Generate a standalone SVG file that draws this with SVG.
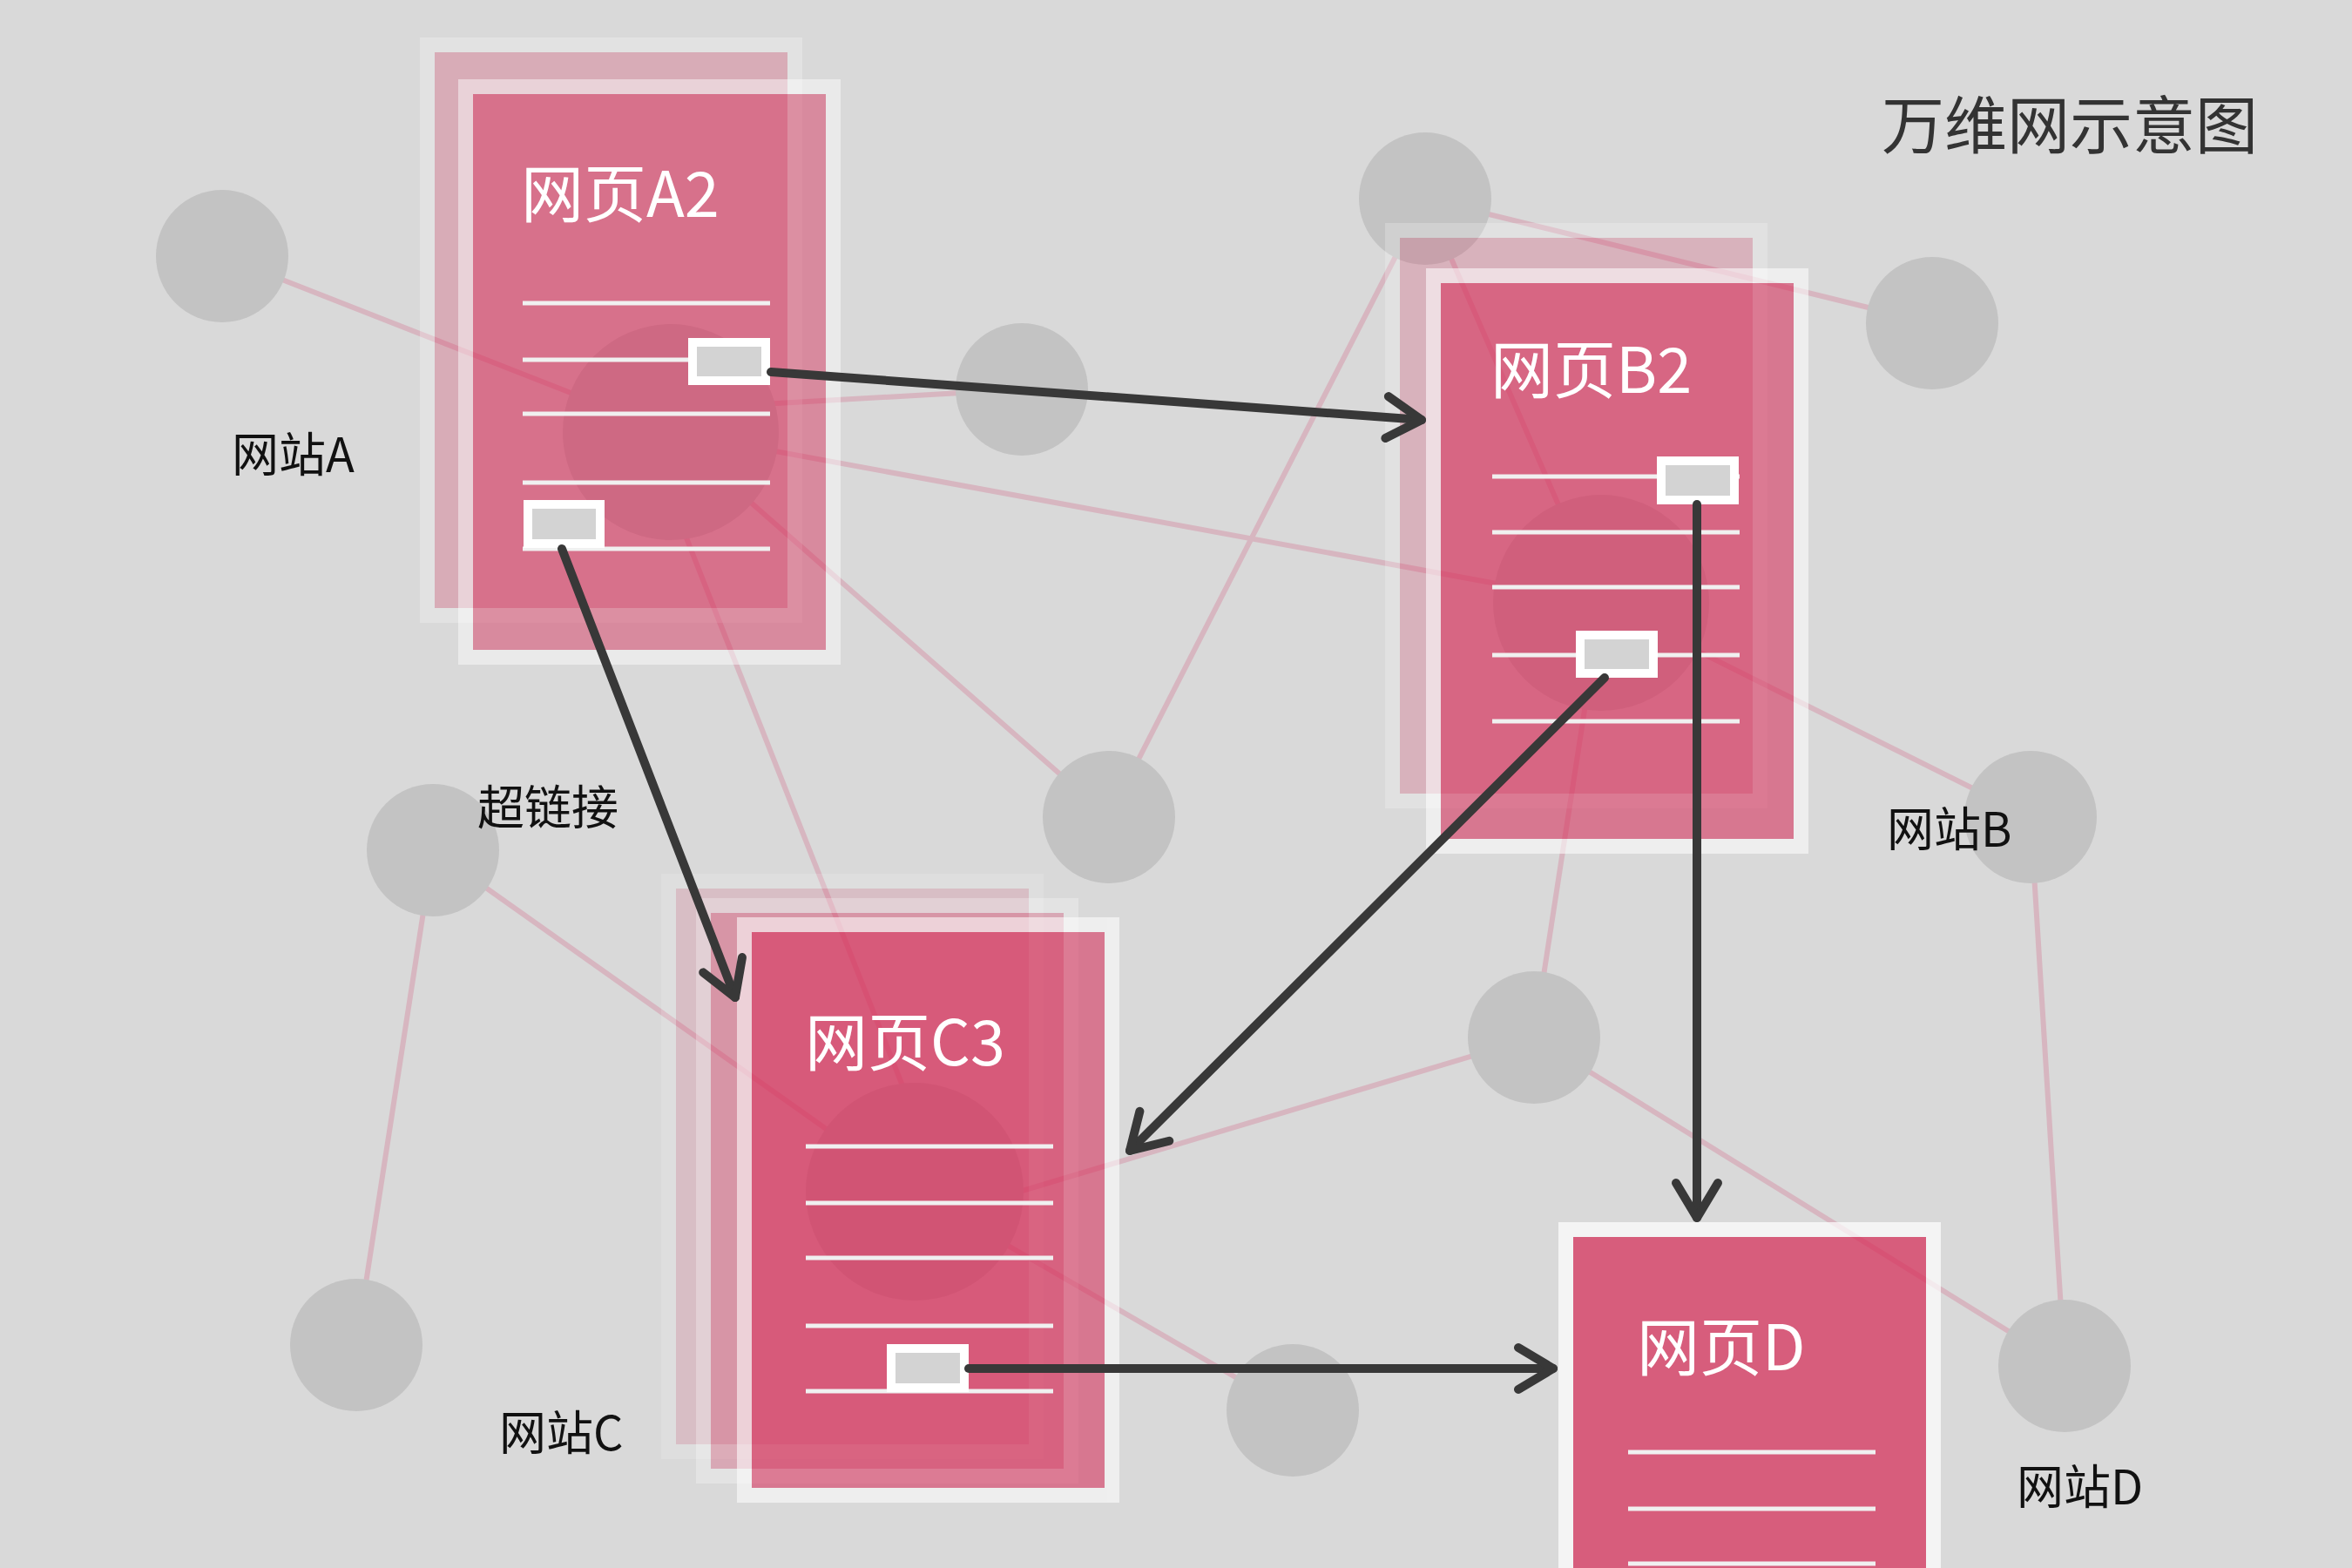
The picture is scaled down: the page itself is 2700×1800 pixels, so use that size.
<svg xmlns="http://www.w3.org/2000/svg" width="2700" height="1800" viewBox="0 0 2700 1800">
<defs>
<style>
.web{stroke:#d7b6c0;stroke-width:6;fill:none}
.dot{fill:#c3c3c3}
.pw{fill:#ffffff}
.pp{fill:#d72e59}
.tl{stroke:#f0f0f0;stroke-width:5}
.box{fill:#d3d3d3;stroke:#ffffff;stroke-width:10}
.ptitle{font-family:"Noto Sans CJK SC","Noto Sans",sans-serif;font-size:72px;fill:#ffffff}
.label{font-family:"Noto Sans CJK SC","Noto Sans",sans-serif;font-size:54px;fill:#111111}
.title{font-family:"Noto Sans CJK SC","Noto Sans",sans-serif;font-size:72px;fill:#333333}
.link{stroke:#383838;stroke-width:10;fill:none;stroke-linecap:round;marker-end:url(#arr)}
</style>
<marker id="arr" markerUnits="userSpaceOnUse" viewBox="-50 -30 60 60" markerWidth="60" markerHeight="60" refX="0" refY="0" orient="auto" overflow="visible">
<path d="M-40,-24 L0,0 L-40,24" fill="none" stroke="#383838" stroke-width="10" stroke-linecap="round" stroke-linejoin="round"/>
</marker>
</defs>
<rect width="2700" height="1800" fill="#d9d9d9"/>
<g id="web-lines">
<line class="web" x1="255" y1="294" x2="770" y2="496"/>
<line class="web" x1="770" y1="470" x2="1173" y2="447"/>
<line class="web" x1="770" y1="496" x2="1838" y2="692"/>
<line class="web" x1="770" y1="496" x2="1273" y2="938"/>
<line class="web" x1="740" y1="496" x2="1084" y2="1368"/>
<line class="web" x1="1636" y1="228" x2="1273" y2="938"/>
<line class="web" x1="1636" y1="228" x2="1838" y2="692"/>
<line class="web" x1="1636" y1="228" x2="2218" y2="371"/>
<line class="web" x1="1838" y1="692" x2="2331" y2="938"/>
<line class="web" x1="1838" y1="692" x2="1761" y2="1191"/>
<line class="web" x1="2331" y1="938" x2="2370" y2="1568"/>
<line class="web" x1="1761" y1="1191" x2="2370" y2="1568"/>
<line class="web" x1="1761" y1="1191" x2="1050" y2="1404"/>
<line class="web" x1="1050" y1="1368" x2="1484" y2="1619"/>
<line class="web" x1="497" y1="976" x2="1050" y2="1368"/>
<line class="web" x1="497" y1="976" x2="409" y2="1544"/>
</g>
<g id="sites">
<circle class="dot" cx="255" cy="294" r="76"/>
<circle class="dot" cx="1173" cy="447" r="76"/>
<circle class="dot" cx="1636" cy="228" r="76"/>
<circle class="dot" cx="2218" cy="371" r="76"/>
<circle class="dot" cx="2331" cy="938" r="76"/>
<circle class="dot" cx="1273" cy="938" r="76"/>
<circle class="dot" cx="497" cy="976" r="76"/>
<circle class="dot" cx="1761" cy="1191" r="76"/>
<circle class="dot" cx="409" cy="1544" r="76"/>
<circle class="dot" cx="1484" cy="1619" r="76"/>
<circle class="dot" cx="2370" cy="1568" r="76"/>
<circle class="dot" cx="770" cy="496" r="124"/>
<circle class="dot" cx="1838" cy="692" r="124"/>
<circle class="dot" cx="1050" cy="1368" r="125"/>
</g>
<g id="page-A2">
<g opacity="0.26"><rect class="pw" x="482" y="43" width="439" height="672"/><rect class="pp" x="499" y="60" width="405" height="638"/></g>
<g opacity="0.46"><rect class="pw" x="526" y="91" width="439" height="672"/><rect class="pp" x="543" y="108" width="405" height="638"/></g>
<text class="ptitle" x="598" y="249">网页A2</text>
<line class="tl" x1="600" y1="348" x2="884" y2="348"/>
<line class="tl" x1="600" y1="413" x2="884" y2="413"/>
<line class="tl" x1="600" y1="475" x2="884" y2="475"/>
<line class="tl" x1="600" y1="554" x2="884" y2="554"/>
<line class="tl" x1="600" y1="630" x2="884" y2="630"/>
<rect class="box" x="795" y="393" width="84" height="44"/>
<rect class="box" x="606" y="579" width="83" height="45"/>
</g>
<g id="page-B2">
<g opacity="0.22"><rect class="pw" x="1590" y="256" width="439" height="672"/><rect class="pp" x="1607" y="273" width="405" height="638"/></g>
<g opacity="0.57"><rect class="pw" x="1637" y="308" width="439" height="672"/><rect class="pp" x="1654" y="325" width="405" height="638"/></g>
<text class="ptitle" x="1711" y="451">网页B2</text>
<line class="tl" x1="1713" y1="547" x2="1997" y2="547"/>
<line class="tl" x1="1713" y1="611" x2="1997" y2="611"/>
<line class="tl" x1="1713" y1="674" x2="1997" y2="674"/>
<line class="tl" x1="1713" y1="752" x2="1997" y2="752"/>
<line class="tl" x1="1713" y1="828" x2="1997" y2="828"/>
<rect class="box" x="1907" y="529" width="84" height="45"/>
<rect class="box" x="1814" y="729" width="84" height="44"/>
</g>
<g id="page-C3">
<g opacity="0.15"><rect class="pw" x="759" y="1003" width="439" height="672"/><rect class="pp" x="776" y="1020" width="405" height="638"/></g>
<g opacity="0.28"><rect class="pw" x="799" y="1031" width="439" height="672"/><rect class="pp" x="816" y="1048" width="405" height="638"/></g>
<g opacity="0.57"><rect class="pw" x="846" y="1053" width="439" height="672"/><rect class="pp" x="863" y="1070" width="405" height="638"/></g>
<text class="ptitle" x="924" y="1223">网页C3</text>
<line class="tl" x1="925" y1="1316" x2="1209" y2="1316"/>
<line class="tl" x1="925" y1="1381" x2="1209" y2="1381"/>
<line class="tl" x1="925" y1="1444" x2="1209" y2="1444"/>
<line class="tl" x1="925" y1="1522" x2="1209" y2="1522"/>
<line class="tl" x1="925" y1="1597" x2="1209" y2="1597"/>
<rect class="box" x="1023" y="1548" width="84" height="45"/>
</g>
<g id="page-D">
<g opacity="0.72"><rect class="pw" x="1789" y="1403" width="439" height="672"/><rect class="pp" x="1806" y="1420" width="405" height="638"/></g>
<text class="ptitle" x="1879" y="1573">网页D</text>
<line class="tl" x1="1869" y1="1667" x2="2153" y2="1667"/>
<line class="tl" x1="1869" y1="1732" x2="2153" y2="1732"/>
<line class="tl" x1="1869" y1="1795" x2="2153" y2="1795"/>
</g>
<g id="connectors">
<line class="link" x1="885" y1="427" x2="1632" y2="482"/>
<line class="link" x1="645" y1="630" x2="844" y2="1145"/>
<line class="link" x1="1948" y1="579" x2="1948" y2="1398"/>
<line class="link" x1="1842" y1="778" x2="1297" y2="1321"/>
<line class="link" x1="1112" y1="1571" x2="1783" y2="1571"/>
</g>
<g id="labels">
<text class="label" x="266" y="542">网站A</text>
<text class="label" x="2166" y="972">网站B</text>
<text class="label" x="573" y="1665">网站C</text>
<text class="label" x="2315" y="1727">网站D</text>
<text class="label" x="548" y="947">超链接</text>
<text class="title" x="2160" y="170">万维网示意图</text>
</g>
</svg>
